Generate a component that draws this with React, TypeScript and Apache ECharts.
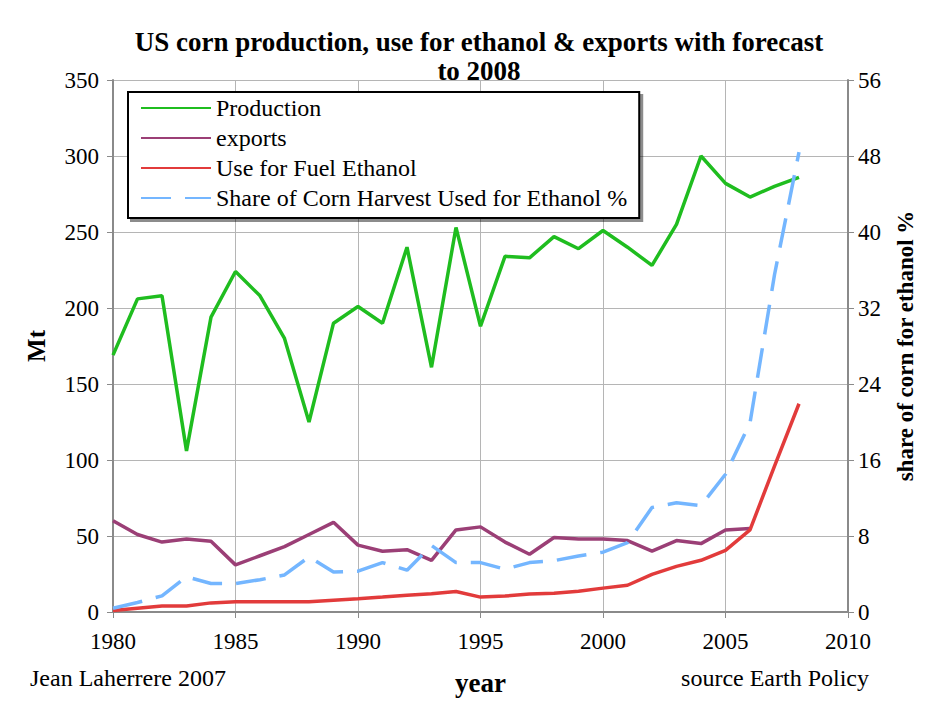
import React, { useEffect, useRef } from "react";
import * as echarts from "echarts";

const years = [1980,1981,1982,1983,1984,1985,1986,1987,1988,1989,1990,1991,1992,1993,1994,1995,1996,1997,1998,1999,2000,2001,2002,2003,2004,2005,2006,2007,2008];
const production = [169,206,208,106,194,224,208,180,125,190,201,190,240,161,253,188,234,233,247,239,251,240,228,255,300,282,273,280,286];
const exportsMt = [60,51,46,48,46.5,31,37,43,51,59,44,40,41,34,54,56,46,38,49,48,48,47,40,47,45,54,55,null,null];
const fuelEthanol = [1,2.5,4,4,6,6.7,6.7,6.7,6.7,7.8,8.7,9.8,11,12,13.5,9.8,10.5,11.8,12.4,13.7,15.7,17.6,24.8,30,34,40.6,54,96,137];
const sharePct = [0.4,1.0,1.7,3.7,3.0,3.0,3.4,3.9,5.8,4.2,4.3,5.2,4.4,7.0,5.2,5.2,4.5,5.2,5.4,5.9,6.3,7.3,11.0,11.5,11.2,14.5,19.9,35.5,48.4];
const leftTicks = { min: 0, max: 350, interval: 50 };
const rightTicks = { min: 0, max: 56, interval: 8 };
const xTicks = { min: 1980, max: 2010, interval: 5 };

const pairs = (vals: (number | null)[]) =>
  years.map((y, i) => [y, vals[i]]).filter((p) => p[1] !== null);

const FONT = "Liberation Serif";

export default function App() {
  const ref = useRef<HTMLDivElement>(null);
  useEffect(() => {
    if (!ref.current) return;
    const chart = echarts.init(ref.current, undefined, { renderer: "svg" });
    const axisLineStyle = { color: "#8a8a8a", width: 2 };
    chart.setOption({
      animation: false,
      backgroundColor: "#ffffff",
      title: {
        text: "US corn production, use for ethanol & exports with forecast\nto 2008",
        left: 474,
        textAlign: "center",
        top: 22,
        textStyle: { fontFamily: FONT, fontWeight: "bold", fontSize: 27, color: "#000", lineHeight: 29 },
      },
      grid: { left: 113, right: 92, top: 80, bottom: 86, containLabel: false },
      legend: {
        orient: "vertical",
        left: 128,
        top: 92,
        backgroundColor: "#fff",
        borderColor: "#000",
        borderWidth: 2,
        padding: [4, 12, 8, 12],
        itemGap: 6,
        itemWidth: 70,
        itemHeight: 20,
        itemStyle: { color: "rgba(0,0,0,0)", borderWidth: 0, opacity: 0 },
        shadowColor: "rgba(0,0,0,0.45)",
        shadowBlur: 0,
        shadowOffsetX: 3,
        shadowOffsetY: 3,
        textStyle: { fontFamily: FONT, fontSize: 24, lineHeight: 24, color: "#000" },
        data: ["Production", "exports", "Use for Fuel Ethanol", "Share of Corn Harvest Used for Ethanol %"],
      },
      xAxis: {
        type: "value",
        min: xTicks.min,
        max: xTicks.max,
        interval: xTicks.interval,
        name: "year",
        nameLocation: "middle",
        nameGap: 57,
        nameTextStyle: { fontFamily: FONT, fontWeight: "bold", fontSize: 27, color: "#000" },
        axisLine: { lineStyle: axisLineStyle },
        axisTick: { show: true, length: 6, lineStyle: { color: "#8a8a8a" } },
        axisLabel: { fontFamily: FONT, fontSize: 23, color: "#000", margin: 18, formatter: (v: number) => String(v) },
        splitLine: { show: true, lineStyle: { color: "#b5b5b5", width: 1 } },
      },
      yAxis: [
        {
          type: "value",
          min: leftTicks.min,
          max: leftTicks.max,
          interval: leftTicks.interval,
          name: "Mt",
          nameLocation: "middle",
          nameGap: 64,
          nameRotate: 90,
          nameTextStyle: { fontFamily: FONT, fontWeight: "bold", fontSize: 25, color: "#000" },
          axisLine: { show: true, lineStyle: axisLineStyle },
          axisTick: { show: true, length: 6, lineStyle: { color: "#8a8a8a" } },
          axisLabel: { fontFamily: FONT, fontSize: 23, color: "#000", margin: 14 },
          splitLine: { show: true, lineStyle: { color: "#b5b5b5", width: 1 } },
        },
        {
          type: "value",
          position: "right",
          min: rightTicks.min,
          max: rightTicks.max,
          interval: rightTicks.interval,
          name: "share of corn for ethanol %",
          nameLocation: "middle",
          nameGap: 46,
          nameRotate: 90,
          nameTextStyle: { fontFamily: FONT, fontWeight: "bold", fontSize: 23, color: "#000" },
          axisLine: { show: true, lineStyle: axisLineStyle },
          axisTick: { show: true, length: 6, lineStyle: { color: "#8a8a8a" } },
          axisLabel: { fontFamily: FONT, fontSize: 23, color: "#000", margin: 10 },
          splitLine: { show: false },
        },
      ],
      series: [
        {
          name: "Production",
          type: "line",
          data: pairs(production),
          symbol: "none",
          itemStyle: { color: "#1fbd1f" },
          lineStyle: { color: "#1fbd1f", width: 3.5 },
        },
        {
          name: "exports",
          type: "line",
          data: pairs(exportsMt),
          symbol: "none",
          itemStyle: { color: "#9b3f76" },
          lineStyle: { color: "#9b3f76", width: 3.5 },
        },
        {
          name: "Use for Fuel Ethanol",
          type: "line",
          data: pairs(fuelEthanol),
          symbol: "none",
          itemStyle: { color: "#e23b3b" },
          lineStyle: { color: "#e23b3b", width: 3.5 },
        },
        {
          name: "Share of Corn Harvest Used for Ethanol %",
          type: "line",
          yAxisIndex: 1,
          data: pairs(sharePct),
          symbol: "none",
          itemStyle: { color: "#74b6ff" },
          lineStyle: { color: "#74b6ff", width: 3.5, type: [30, 14] },
        },
      ],
      graphic: [
        {
          type: "text",
          left: 30,
          top: 666,
          style: { text: "Jean Laherrere 2007", fontFamily: FONT, fontSize: 24, fill: "#000" },
        },
        {
          type: "text",
          right: 71,
          top: 666,
          style: { text: "source Earth Policy", fontFamily: FONT, fontSize: 24, fill: "#000" },
        },
      ],
    });
    return () => chart.dispose();
  }, []);
  return (
    <div
      ref={ref}
      style={{ position: "fixed", left: 0, top: 0, width: 940, height: 701, background: "#fff" }}
    />
  );
}
